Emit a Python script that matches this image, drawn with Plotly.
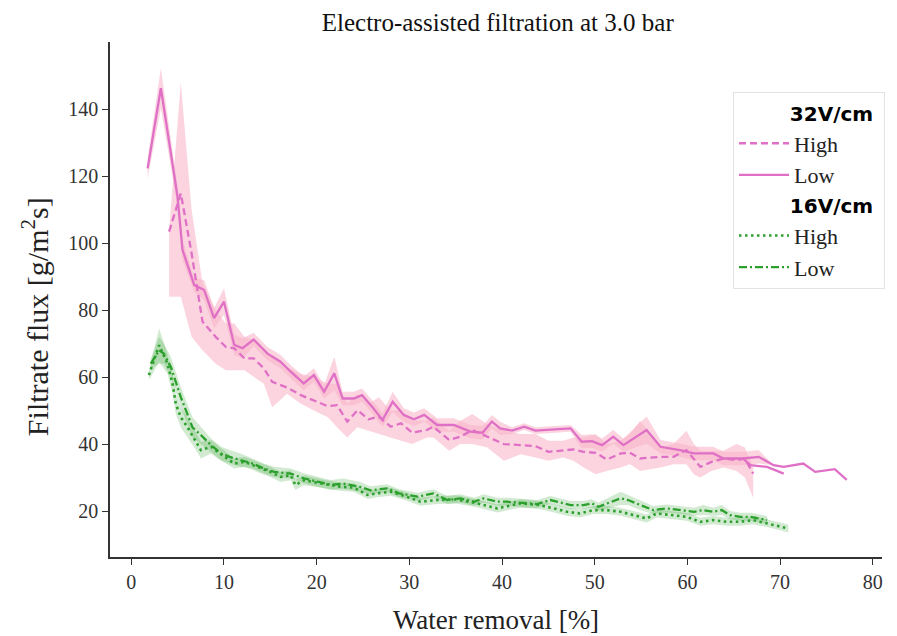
import plotly.graph_objects as go

# ---------------- data ----------------
# 32V/cm, High (dashed)
x32_high = [4.08, 5.34, 6.5, 7.68, 9.1, 10.2, 11.1, 12.2, 13.2, 14.3, 15.2, 16.8, 18.3, 19.7, 21.2, 22.2,
            23.3, 24.4, 25.6, 26.7, 28.0, 29.1, 30.3, 31.9, 32.6, 34.3, 35.5, 36.8, 38.4, 40.2, 42.0, 43.6,
            45.0, 46.6, 47.7, 48.8, 50.1, 51.3, 52.8, 53.8, 54.9, 57.1, 58.5, 59.9, 60.7, 61.4, 62.6, 63.9,
            65.3, 66.2, 67.1]
y32_high = [103.4, 114.8, 97.0, 76.6, 72.0, 69.0, 68.6, 65.6, 65.6, 62.6, 58.6, 56.9, 54.6, 52.9, 51.3, 51.6,
            46.7, 50.1, 47.4, 48.2, 45.2, 46.2, 43.4, 44.2, 45.2, 41.2, 42.2, 44.2, 42.2, 40.0, 39.7, 39.4,
            37.7, 38.2, 38.4, 37.7, 37.4, 35.4, 37.2, 37.4, 35.7, 36.2, 36.2, 38.2, 35.7, 33.2, 34.7, 35.7,
            35.2, 35.7, 31.2]
lo32_high = [84, 84, 72, 68, 64, 62, 62, 62, 60, 58, 51, 55, 52, 50, 48, 45,
             42, 45, 44, 43, 42, 41, 40, 42, 42, 38, 40, 40, 39, 35, 37, 36,
             35, 36, 35, 33, 31, 32, 33, 34, 32, 33, 34, 34, 31, 30, 32, 33,
             32, 30, 24]
hi32_high = [104, 148, 110, 88, 80, 76, 76, 72, 71, 68, 66, 63, 61, 60, 58, 58,
             52, 55, 52, 54, 50, 50, 47, 47, 48, 44, 47, 49, 46, 44, 43, 43,
             41, 41, 42, 42, 43, 40, 41, 43, 47, 39, 40, 44, 40, 38, 38, 38,
             40, 39, 33]

# 32V/cm, Low (solid)
x32_low = [1.76, 3.19, 4.99, 5.52, 6.78, 7.86, 8.93, 10.0, 11.1, 12.0, 13.2, 14.7, 16.1, 17.2, 18.6, 19.7,
           20.8, 21.9, 22.8, 24.0, 24.9, 26.0, 27.1, 28.2, 29.4, 30.5, 31.6, 33.0, 34.8, 36.6, 37.9, 38.9,
           39.8, 41.1, 42.4, 43.6, 47.4, 48.6, 49.7, 50.8, 52.0, 53.1, 55.6, 57.1, 59.2, 60.7, 62.8, 63.9,
           66.0, 67.7, 69.3, 70.4, 72.5, 73.8, 75.9, 77.2]
y32_low = [122.3, 146.2, 113.8, 98.0, 87.5, 86.0, 77.6, 82.5, 69.6, 68.6, 71.2, 67.0, 64.6, 61.6, 58.1, 60.6,
           55.6, 61.1, 53.6, 53.6, 54.6, 51.1, 47.2, 52.6, 48.7, 47.4, 48.7, 45.7, 45.7, 43.7, 43.4, 46.7,
           44.7, 44.0, 45.2, 44.0, 44.7, 40.7, 40.9, 39.7, 42.2, 39.7, 44.2, 39.2, 38.2, 37.2, 37.2, 35.7,
           35.7, 36.2, 33.7, 33.2, 34.2, 31.7, 32.5, 29.3]
sd32_low = [3, 6, 3, 3, 2, 3, 3, 4, 3, 3, 2, 2, 2, 2, 2, 2,
            2, 5, 2, 2, 2, 2, 2, 3, 2, 2, 2, 2, 2, 2, 2, 2,
            2, 1, 1, 1, 1, 2, 2, 2, 2, 2, 4, 2, 2, 2, 2, 2,
            2, 2, 0, 0, 0, 0, 0, 0]
# second replicate branch of the 32V/cm Low curve at the end
x32_low_b = [66.0, 66.8, 68.6, 70.4]
y32_low_b = [35.7, 33.7, 33.2, 31.2]

# 16V/cm, High (dotted)
x16_high = [1.9, 3.0, 3.9, 4.45, 4.8, 5.34, 6.07, 7.1, 7.5, 8.6, 9.3, 11.1, 12.2, 13.6, 15.0, 16.1, 17.2,
            17.7, 18.6, 20.6, 22.5, 24.0, 25.5, 26.5, 28.0, 29.5, 31.2, 33.0, 35.0, 37.0, 39.5, 42.0, 44.0,
            45.6, 47.0, 48.4, 49.9, 51.3, 52.8, 54.2, 55.6, 56.7, 58.5, 59.9, 61.4, 62.8, 64.2, 65.7, 67.1,
            69.6, 70.9]
y16_high = [60.6, 69.5, 64.0, 58.0, 52.0, 48.0, 45.0, 40.2, 38.2, 39.2, 37.7, 34.2, 34.7, 33.2, 31.7, 30.2, 30.7,
            27.8, 29.2, 28.2, 27.3, 27.0, 24.8, 25.3, 25.8, 24.5, 22.8, 23.3, 23.5, 22.5, 20.8, 22.3, 21.8,
            20.8, 19.8, 19.3, 20.3, 20.3, 19.8, 18.8, 17.8, 19.3, 18.8, 18.3, 16.8, 17.3, 16.8, 16.8, 17.3,
            15.8, 14.8]
sd16_high = [1.5, 5, 3, 3, 3, 3, 3, 2.5, 2.5, 2, 2, 1.5, 1.5, 1.5, 1.5, 1.5, 1.5,
             1.5, 1.5, 1.2, 1.2, 1.2, 1.2, 1.2, 1.2, 1.2, 1.2, 1.2, 1.2, 1.2, 1.2, 1.2, 1.2,
             1.2, 1.2, 1.2, 1.2, 1.2, 1.2, 1.2, 1.2, 1.2, 1.2, 1.2, 1.2, 1.2, 1.2, 1.2, 1.2,
             1.2, 1.2]

# 16V/cm, Low (dash-dot)
x16_low = [2.1, 3.0, 3.5, 4.27, 5.34, 5.9, 6.6, 7.5, 8.6, 9.7, 10.6, 11.8, 13.1, 14.3, 15.4, 17.2, 18.6,
           20.1, 21.5, 22.9, 24.7, 25.8, 27.6, 28.9, 30.9, 32.6, 34.1, 35.5, 37.0, 38.0, 39.5, 40.5, 42.3,
           43.8, 45.2, 47.4, 48.8, 49.7, 50.4, 52.8, 53.6, 54.9, 56.3, 57.8, 59.2, 60.7, 61.7, 62.8, 63.7,
           64.6, 65.7, 66.8, 67.8, 68.6]
y16_low = [64.0, 68.0, 67.0, 63.0, 54.0, 50.0, 45.0, 42.7, 39.7, 37.2, 36.2, 35.2, 34.2, 32.7, 31.7, 31.2, 29.8,
           28.8, 27.8, 28.2, 27.2, 26.2, 26.8, 25.3, 24.3, 25.3, 23.3, 23.8, 22.8, 23.8, 22.8, 22.8, 22.3,
           22.1, 23.3, 21.8, 21.8, 22.3, 21.3, 23.8, 23.3, 21.8, 20.3, 20.8, 20.3, 19.8, 20.3, 19.8, 20.3,
           18.8, 18.3, 18.3, 17.8, 17.3]
sd16_low = [1.5, 4, 3, 3, 3, 3, 3, 2.5, 2, 2, 2, 2, 1.5, 1.5, 1.5, 1.5, 1.5,
            1.5, 1.5, 1.5, 1.5, 1.2, 1.2, 1.2, 1.2, 1.2, 1.2, 1.2, 1.2, 1.2, 1.2, 1.2, 1.2,
            1.2, 1.2, 1.2, 1.2, 1.2, 1.2, 2, 1.5, 1.5, 1.2, 1.2, 1.2, 1.2, 1.5, 1.2, 1.5,
            1.2, 1.2, 1.2, 1.2, 1.2]

x_ticks = [0, 10, 20, 30, 40, 50, 60, 70, 80]
y_ticks = [20, 40, 60, 80, 100, 120, 140]

# ---------------- style ----------------
PINK = "#e070c6"
PINK_BAND = "rgba(248,176,196,0.55)"
GREEN = "#2ca02c"
GREEN_BAND = "rgba(44,160,44,0.22)"
SERIF = "Liberation Serif, Times New Roman, serif"
SANS = "DejaVu Sans, sans-serif"

fig = go.Figure()


def band(x, lo, hi, color):
    fig.add_trace(go.Scatter(
        x=list(x) + list(x)[::-1], y=list(hi) + list(lo)[::-1],
        fill="toself", fillcolor=color, line=dict(width=0),
        mode="lines", showlegend=False, hoverinfo="skip"))


# bands
band(x32_high, lo32_high, hi32_high, PINK_BAND)
band(x32_low, [a - s for a, s in zip(y32_low, sd32_low)],
     [a + s for a, s in zip(y32_low, sd32_low)], PINK_BAND)
band(x16_high, [a - s for a, s in zip(y16_high, sd16_high)],
     [a + s for a, s in zip(y16_high, sd16_high)], GREEN_BAND)
band(x16_low, [a - s for a, s in zip(y16_low, sd16_low)],
     [a + s for a, s in zip(y16_low, sd16_low)], GREEN_BAND)

LW = 2.3
NB = "\u00a0"
GT_FONT = dict(family=SANS, size=20, color="#000")
fig.add_trace(go.Scatter(
    x=x32_high, y=y32_high, mode="lines", name="High",
    line=dict(color=PINK, width=LW, dash="7px,4px"),
    legendgroup="32", legendgrouptitle=dict(text=NB * 8 + "<b>32V/cm</b>", font=GT_FONT)))
fig.add_trace(go.Scatter(
    x=x32_low, y=y32_low, mode="lines", name="Low",
    line=dict(color=PINK, width=LW), legendgroup="32"))
fig.add_trace(go.Scatter(
    x=x32_low_b, y=y32_low_b, mode="lines", name="Low",
    line=dict(color=PINK, width=LW), legendgroup="32", showlegend=False))
fig.add_trace(go.Scatter(
    x=x16_high, y=y16_high, mode="lines", name="High",
    line=dict(color=GREEN, width=2.6, dash="2.5px,3.5px"),
    legendgroup="16", legendgrouptitle=dict(text=NB * 8 + "<b>16V/cm</b>", font=GT_FONT)))
fig.add_trace(go.Scatter(
    x=x16_low, y=y16_low, mode="lines", name="Low",
    line=dict(color=GREEN, width=LW, dash="8px,3px,2px,3px"), legendgroup="16"))

fig.update_layout(
    width=897, height=636,
    margin=dict(l=102, r=23, t=34, b=87, autoexpand=False),
    paper_bgcolor="white", plot_bgcolor="white",
    title=dict(text="Electro-assisted filtration at 3.0 bar", x=0.546, xanchor="center",
               y=0.978, yanchor="middle", font=dict(family=SERIF, size=25, color="#111")),
    font=dict(family=SERIF, color="#222"),
    legend=dict(x=0.807, y=0.902, xanchor="left", yanchor="top",
                bgcolor="white", bordercolor="#e3e3e3", borderwidth=1,
                font=dict(family=SERIF, size=22, color="#222"),
                tracegroupgap=0, itemwidth=50),
    showlegend=True,
    annotations=[dict(text="Filtrate flux [g/m<sup>2</sup>s]", textangle=-90,
                      xref="paper", yref="paper", x=-0.097, y=0.466,
                      xanchor="center", yanchor="middle", showarrow=False,
                      font=dict(family=SERIF, size=30, color="#222"))],
)
fig.update_xaxes(range=[-2.3, 81.0], tickvals=x_ticks, showline=True, linecolor="#333", linewidth=1.5,
                 ticks="outside", ticklen=6, tickcolor="#333", showgrid=False, zeroline=False,
                 automargin=False,
                 tickfont=dict(family=SERIF, size=20, color="#333"),
                 title=dict(text="Water removal [%]", font=dict(family=SERIF, size=27, color="#222"), standoff=18))
fig.update_yaxes(range=[6.3, 160.0], tickvals=y_ticks, showline=True, linecolor="#333", linewidth=1.5,
                 ticks="outside", ticklen=6, tickcolor="#333", showgrid=False, zeroline=False,
                 automargin=False,
                 tickfont=dict(family=SERIF, size=20, color="#333"))

fig.write_html("out.html")
